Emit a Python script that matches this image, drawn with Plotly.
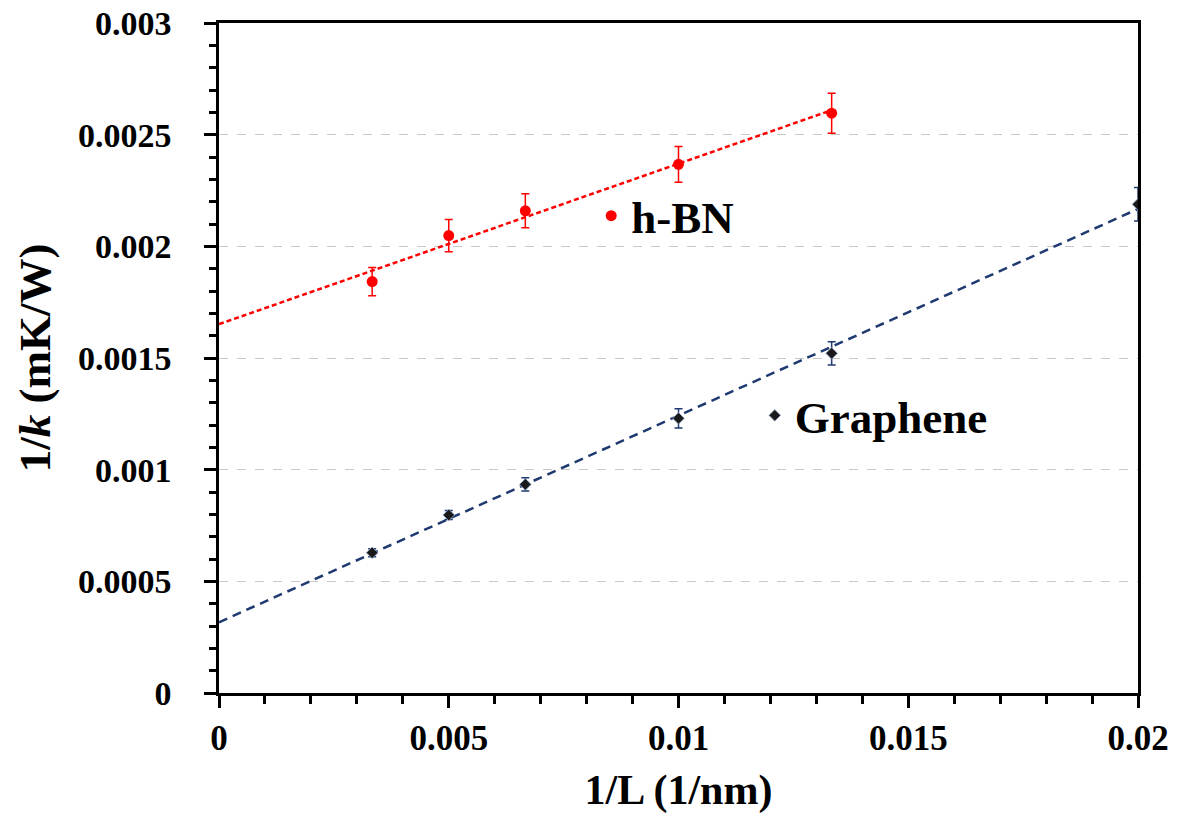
import numpy as np
import plotly.graph_objects as go

# ---- data ----
hbn_x = [1/300, 1/200, 1/150, 1/100, 1/75]
hbn_y = [0.001842, 0.002048, 0.002159, 0.002367, 0.002596]
hbn_err = [0.000063, 0.000072, 0.000076, 0.00008, 0.00009]

gr_x = [1/300, 1/200, 1/150, 1/100, 1/75, 1/50]
gr_y = [0.000628, 0.000797, 0.000934, 0.00123, 0.001521, 0.002188]
gr_err = [0.000018, 0.00002, 0.00003, 0.000043, 0.000052, 0.000075]

x_tickvals = [0, 0.005, 0.01, 0.015, 0.02]
x_ticktext = ["0", "0.005", "0.01", "0.015", "0.02"]
y_tickvals = [0, 0.0005, 0.001, 0.0015, 0.002, 0.0025, 0.003]
y_ticktext = ["0", "0.0005", "0.001", "0.0015", "0.002", "0.0025", "0.003"]

# linear trend lines (least squares, as in the original)
hbn_fit = np.polyfit(hbn_x, hbn_y, 1)
gr_fit = np.polyfit(gr_x, gr_y, 1)
hbn_lx = [0, max(hbn_x)]
gr_lx = [0, max(gr_x)]

FONT = "Liberation Serif"
RED = "#ff0000"
NAVY = "#1f3a70"

fig = go.Figure()

fig.add_trace(go.Scatter(
    x=hbn_lx, y=list(np.polyval(hbn_fit, hbn_lx)), mode="lines",
    line=dict(color=RED, width=2.5, dash="5px,3px"), showlegend=False,
    hoverinfo="skip"))
fig.add_trace(go.Scatter(
    x=gr_lx, y=list(np.polyval(gr_fit, gr_lx)), mode="lines",
    line=dict(color=NAVY, width=2.5, dash="9px,6px"), showlegend=False,
    hoverinfo="skip"))

fig.add_trace(go.Scatter(
    x=hbn_x, y=hbn_y, mode="markers", name="h-BN", legend="legend",
    marker=dict(symbol="circle", size=11, color=RED),
    error_y=dict(type="data", array=hbn_err, color=RED, thickness=1.5, width=4)))
fig.add_trace(go.Scatter(
    x=gr_x, y=gr_y, mode="markers", name="Graphene", legend="legend2",
    marker=dict(symbol="diamond", size=9, color="#1a1a1a",
                line=dict(color="#9db3d6", width=0.8)),
    error_y=dict(type="data", array=gr_err, color=NAVY, thickness=1.5, width=4)))

legend_common = dict(xanchor="left", yanchor="middle", bgcolor="rgba(0,0,0,0)",
                     font=dict(family=FONT, size=45, color="black", weight="bold"),
                     itemwidth=30, borderwidth=0)

fig.update_layout(
    width=1182, height=828,
    margin=dict(l=219, r=44, t=23, b=135),
    paper_bgcolor="white", plot_bgcolor="white",
    font=dict(family=FONT, color="black"),
    legend=dict(x=0.405, y=0.712, **legend_common),
    legend2=dict(x=0.583, y=0.414, **legend_common),
    xaxis=dict(
        range=[0, 0.02], tickvals=x_tickvals, ticktext=x_ticktext,
        showline=True, linecolor="black", linewidth=2.5, mirror=True,
        ticks="outside", ticklen=12, tickwidth=2.5, tickcolor="black",
        minor=dict(dtick=0.001, ticks="outside", ticklen=8, tickwidth=2.5,
                   tickcolor="black", showgrid=False),
        showgrid=False, zeroline=False, automargin=False,
        tickfont=dict(family=FONT, size=35, color="black", weight="bold"),
        title=dict(text="<b>1/L (1/nm)</b>", font=dict(family=FONT, size=42),
                   standoff=18),
    ),
    yaxis=dict(
        range=[0, 0.003], tickvals=y_tickvals, ticktext=y_ticktext,
        showline=True, linecolor="black", linewidth=2.5, mirror=True,
        ticks="outside", ticklen=12, tickwidth=2.5, tickcolor="black",
        minor=dict(dtick=0.0001, ticks="outside", ticklen=7, tickwidth=2.5,
                   tickcolor="black", showgrid=False),
        showgrid=True, gridcolor="#c8c8c8", gridwidth=1, griddash="dash",
        zeroline=False, automargin=False,
        tickfont=dict(family=FONT, size=34, color="black", weight="bold"),
        ticklabelstandoff=26,
        title=dict(text="<b>1/<i>k</i> (mK/W)</b>", font=dict(family=FONT, size=45),
                   standoff=14),
    ),
)

fig.write_html("out.html", config={"displayModeBar": False},
               post_script="document.body.style.margin='0';")
